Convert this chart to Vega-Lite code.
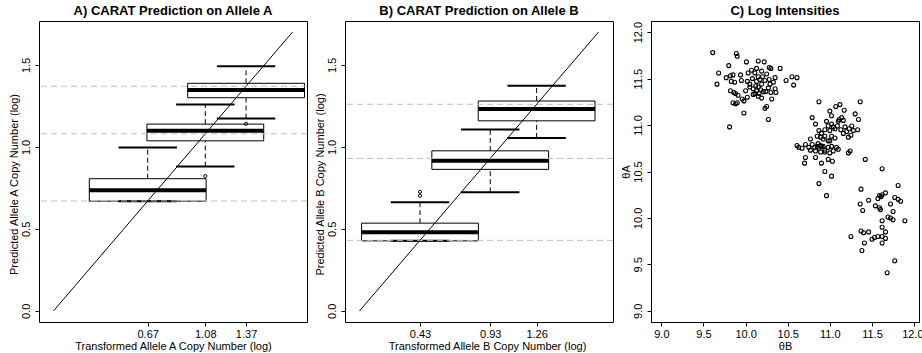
{
  "$schema": "https://vega.github.io/schema/vega-lite/v6.json",
  "padding": {"left": 7, "top": 4, "right": 0, "bottom": 0},
  "spacing": 38,
  "bounds": "flush",
  "config": {
    "font": "Liberation Sans",
    "view": {"stroke": "black", "strokeWidth": 1},
    "axis": {"domain": false, "grid": false, "ticks": true, "tickColor": "black", "tickSize": 4, "tickWidth": 1,
      "labelColor": "black", "labelFontSize": 11, "labelFont": "Liberation Sans", "titleFont": "Liberation Sans",
      "titleFontSize": 11, "titleFontWeight": "normal", "titleColor": "black", "labelPadding": 3, "titlePadding": 1,
      "labelFlush": false, "labelOverlap": false},
    "axisX": {"labelPadding": 2, "titlePadding": 1},
    "axisY": {"labelAngle": -90, "labelAlign": "center", "labelBaseline": "bottom", "labelPadding": 4},
    "title": {"font": "Liberation Sans", "fontSize": 13, "fontWeight": "bold", "color": "black", "offset": 3, "anchor": "middle"}
  },
  "datasets": {
    "boxA": [
      {"x": 0.67, "lo": 0.669, "q1": 0.669, "med": 0.735, "q3": 0.806, "hi": 0.996},
      {"x": 1.08, "lo": 0.88, "q1": 1.037, "med": 1.098, "q3": 1.139, "hi": 1.259},
      {"x": 1.37, "lo": 1.173, "q1": 1.30, "med": 1.347, "q3": 1.388, "hi": 1.492}
    ],
    "outA": [{"x": 1.08, "y": 0.822}, {"x": 1.37, "y": 1.141}],
    "refA": [{"y": 0.67}, {"y": 1.08}, {"y": 1.37}],
    "boxB": [
      {"x": 0.43, "lo": 0.427, "q1": 0.427, "med": 0.480, "q3": 0.535, "hi": 0.663},
      {"x": 0.93, "lo": 0.724, "q1": 0.863, "med": 0.916, "q3": 0.976, "hi": 1.106},
      {"x": 1.26, "lo": 1.055, "q1": 1.159, "med": 1.231, "q3": 1.280, "hi": 1.373}
    ],
    "outB": [{"x": 0.43, "y": 0.726}, {"x": 0.43, "y": 0.702}],
    "refB": [{"y": 0.43}, {"y": 0.93}, {"y": 1.26}],
    "diag": [{"x": 0, "y": 0}, {"x": 1.7, "y": 1.7}],
    "scatter": [
      {"b":9.61,"a":11.78},{"b":9.89,"a":11.77},{"b":9.90,"a":11.74},{"b":10.01,"a":11.68},{"b":10.15,"a":11.69},{"b":10.22,"a":11.68},{"b":10.28,"a":11.62},{"b":10.30,"a":11.61},{"b":10.41,"a":11.61},{"b":9.80,"a":11.64},
      {"b":9.68,"a":11.56},{"b":9.66,"a":11.44},{"b":9.77,"a":11.51},{"b":9.82,"a":11.53},{"b":9.85,"a":11.54},{"b":9.94,"a":11.54},{"b":10.07,"a":11.59},{"b":10.13,"a":11.61},{"b":10.11,"a":11.56},{"b":10.19,"a":11.58},
      {"b":10.25,"a":11.55},{"b":10.03,"a":11.56},{"b":9.83,"a":11.47},{"b":9.87,"a":11.46},{"b":9.95,"a":11.48},{"b":10.02,"a":11.47},{"b":10.08,"a":11.50},{"b":10.15,"a":11.52},{"b":10.17,"a":11.49},{"b":10.13,"a":11.47},
      {"b":10.19,"a":11.44},{"b":10.23,"a":11.48},{"b":10.28,"a":11.49},{"b":10.29,"a":11.44},{"b":10.35,"a":11.51},{"b":10.48,"a":11.48},{"b":10.55,"a":11.52},{"b":10.61,"a":11.51},{"b":10.57,"a":11.43},{"b":10.05,"a":11.41},
      {"b":10.00,"a":11.37},{"b":10.09,"a":11.39},{"b":10.15,"a":11.41},{"b":10.18,"a":11.38},{"b":10.21,"a":11.36},{"b":10.16,"a":11.34},{"b":10.13,"a":11.37},{"b":10.27,"a":11.40},{"b":10.24,"a":11.36},{"b":10.30,"a":11.35},
      {"b":10.35,"a":11.39},{"b":10.36,"a":11.35},{"b":9.82,"a":11.37},{"b":9.86,"a":11.35},{"b":9.88,"a":11.34},{"b":9.91,"a":11.32},{"b":9.96,"a":11.28},{"b":9.98,"a":11.26},{"b":10.02,"a":11.30},{"b":10.09,"a":11.33},
      {"b":10.11,"a":11.34},{"b":10.15,"a":11.31},{"b":10.19,"a":11.29},{"b":9.85,"a":11.24},{"b":9.88,"a":11.23},{"b":9.90,"a":11.24},{"b":10.25,"a":11.20},{"b":10.23,"a":11.18},{"b":10.31,"a":11.28},{"b":9.98,"a":11.13},
      {"b":10.27,"a":11.06},{"b":9.81,"a":10.98},{"b":10.05,"a":11.44},{"b":10.12,"a":11.42},{"b":10.20,"a":11.52},{"b":10.33,"a":11.46},
      {"b":10.87,"a":11.25},{"b":11.36,"a":11.25},{"b":11.12,"a":11.22},{"b":11.07,"a":11.20},{"b":11.17,"a":11.16},{"b":11.00,"a":11.15},{"b":10.79,"a":11.08},{"b":11.02,"a":11.10},{"b":11.30,"a":11.12},{"b":11.34,"a":11.06},
      {"b":11.10,"a":11.04},{"b":11.16,"a":11.05},{"b":10.83,"a":11.01},{"b":10.96,"a":11.04},{"b":10.98,"a":10.99},{"b":10.94,"a":10.95},{"b":11.00,"a":10.94},{"b":11.04,"a":10.98},{"b":11.02,"a":11.01},{"b":11.09,"a":10.99},
      {"b":11.13,"a":10.95},{"b":11.18,"a":10.98},{"b":11.23,"a":10.96},{"b":11.26,"a":10.99},{"b":11.28,"a":10.94},{"b":11.20,"a":10.93},{"b":11.16,"a":10.91},{"b":11.33,"a":10.95},{"b":11.22,"a":10.87},{"b":11.25,"a":10.89},
      {"b":10.87,"a":10.94},{"b":10.90,"a":10.91},{"b":10.89,"a":10.87},{"b":10.94,"a":10.88},{"b":10.92,"a":10.85},{"b":10.98,"a":10.83},{"b":10.85,"a":10.88},{"b":11.02,"a":10.88},{"b":11.06,"a":10.86},{"b":11.00,"a":10.83},
      {"b":10.77,"a":10.85},{"b":10.71,"a":10.79},{"b":10.67,"a":10.75},{"b":10.63,"a":10.76},{"b":10.75,"a":10.76},{"b":10.79,"a":10.79},{"b":10.82,"a":10.76},{"b":10.85,"a":10.77},{"b":10.87,"a":10.75},{"b":10.90,"a":10.77},
      {"b":10.77,"a":10.73},{"b":10.83,"a":10.72},{"b":10.89,"a":10.71},{"b":10.94,"a":10.73},{"b":10.98,"a":10.76},{"b":11.02,"a":10.77},{"b":11.08,"a":10.76},{"b":11.10,"a":10.74},{"b":11.04,"a":10.72},{"b":10.71,"a":10.65},
      {"b":10.70,"a":10.59},{"b":10.83,"a":10.65},{"b":10.90,"a":10.59},{"b":10.98,"a":10.63},{"b":11.03,"a":10.61},{"b":11.24,"a":10.72},{"b":11.22,"a":10.70},{"b":11.42,"a":10.63},{"b":10.94,"a":10.50},{"b":11.02,"a":10.45},
      {"b":10.87,"a":10.37},{"b":11.62,"a":10.53},{"b":10.61,"a":10.78},{"b":10.96,"a":10.24},{"b":11.14,"a":11.08},{"b":11.11,"a":11.06},{"b":11.06,"a":10.96},{"b":11.00,"a":10.70},{"b":10.94,"a":10.71},{"b":10.86,"a":10.80},
      {"b":10.89,"a":10.78},{"b":10.92,"a":10.77},
      {"b":11.81,"a":10.35},{"b":11.37,"a":10.31},{"b":11.66,"a":10.27},{"b":11.62,"a":10.25},{"b":11.59,"a":10.24},{"b":11.57,"a":10.21},{"b":11.61,"a":10.23},{"b":11.77,"a":10.22},{"b":11.81,"a":10.20},{"b":11.84,"a":10.18},
      {"b":11.46,"a":10.19},{"b":11.36,"a":10.15},{"b":11.39,"a":10.08},{"b":11.54,"a":10.13},{"b":11.59,"a":10.11},{"b":11.60,"a":10.09},{"b":11.72,"a":10.15},{"b":11.75,"a":10.07},{"b":11.69,"a":10.01},{"b":11.72,"a":10.00},
      {"b":11.75,"a":9.98},{"b":11.62,"a":9.97},{"b":11.89,"a":9.97},{"b":11.62,"a":9.90},{"b":11.66,"a":9.85},{"b":11.66,"a":9.78},{"b":11.62,"a":9.80},{"b":11.37,"a":9.86},{"b":11.40,"a":9.84},{"b":11.46,"a":9.85},
      {"b":11.25,"a":9.80},{"b":11.50,"a":9.77},{"b":11.53,"a":9.79},{"b":11.57,"a":9.80},{"b":11.41,"a":9.73},{"b":11.62,"a":9.73},{"b":11.38,"a":9.65},{"b":11.77,"a":9.54},{"b":11.68,"a":9.41}
    ]
  },
  "hconcat": [
    {
      "width": 268, "height": 301,
      "title": "A) CARAT Prediction on Allele A",
      "layer": [
        {"data": {"name": "boxA"}, "mark": {"type": "rule", "color": "black", "strokeDash": [5, 3], "strokeWidth": 1},
          "encoding": {
            "x": {"field": "x", "type": "quantitative", "scale": {"domain": [-0.068, 1.768], "nice": false, "zero": false},
              "axis": {"title": "Transformed Allele A Copy Number (log)", "values": [0.67, 1.08, 1.37], "format": ".2f"}},
            "y": {"field": "q3", "type": "quantitative", "scale": {"domain": [-0.068, 1.768], "nice": false, "zero": false},
              "axis": {"title": "Predicted Allele A Copy Number (log)", "values": [0, 0.5, 1, 1.5], "format": ".1f", "titleY": 163}},
            "y2": {"field": "hi"}}},
        {"data": {"name": "boxA"}, "mark": {"type": "rule", "color": "black", "strokeDash": [5, 3], "strokeWidth": 1},
          "encoding": {"x": {"field": "x", "type": "quantitative"}, "y": {"field": "lo", "type": "quantitative"}, "y2": {"field": "q1"}}},
        {"data": {"name": "boxA"}, "mark": {"type": "tick", "orient": "horizontal", "color": "black", "size": 58.4, "thickness": 2, "opacity": 1},
          "encoding": {"x": {"field": "x", "type": "quantitative"}, "y": {"field": "hi", "type": "quantitative"}}},
        {"data": {"name": "boxA"}, "mark": {"type": "tick", "orient": "horizontal", "color": "black", "size": 58.4, "thickness": 2, "opacity": 1},
          "encoding": {"x": {"field": "x", "type": "quantitative"}, "y": {"field": "lo", "type": "quantitative"}}},
        {"data": {"name": "boxA"}, "mark": {"type": "bar", "orient": "vertical", "size": 116.8, "fillOpacity": 0, "stroke": "black", "strokeWidth": 1, "clip": true},
          "encoding": {"x": {"field": "x", "type": "quantitative"}, "y": {"field": "q1", "type": "quantitative"}, "y2": {"field": "q3"}}},
        {"data": {"name": "boxA"}, "mark": {"type": "tick", "orient": "horizontal", "color": "black", "size": 116.8, "thickness": 4, "opacity": 1, "clip": true},
          "encoding": {"x": {"field": "x", "type": "quantitative"}, "y": {"field": "med", "type": "quantitative"}}},
        {"data": {"name": "outA"}, "mark": {"type": "point", "shape": "circle", "filled": false, "color": "black", "size": 10, "strokeWidth": 1, "opacity": 1},
          "encoding": {"x": {"field": "x", "type": "quantitative"}, "y": {"field": "y", "type": "quantitative"}}},
        {"data": {"name": "diag"}, "mark": {"type": "line", "color": "black", "strokeWidth": 1},
          "encoding": {"x": {"field": "x", "type": "quantitative"}, "y": {"field": "y", "type": "quantitative"}}},
        {"data": {"name": "refA"}, "mark": {"type": "rule", "color": "#BEBEBE", "strokeDash": [6, 4], "strokeWidth": 1},
          "encoding": {"y": {"field": "y", "type": "quantitative"}}}
      ]
    },
    {
      "width": 268, "height": 301,
      "title": "B) CARAT Prediction on Allele B",
      "layer": [
        {"data": {"name": "boxB"}, "mark": {"type": "rule", "color": "black", "strokeDash": [5, 3], "strokeWidth": 1},
          "encoding": {
            "x": {"field": "x", "type": "quantitative", "scale": {"domain": [-0.068, 1.768], "nice": false, "zero": false},
              "axis": {"title": "Transformed Allele B  Copy Number (log)", "values": [0.43, 0.93, 1.26], "format": ".2f", "titleX": 142}},
            "y": {"field": "q3", "type": "quantitative", "scale": {"domain": [-0.068, 1.768], "nice": false, "zero": false},
              "axis": {"title": "Predicted Allele B Copy Number (log)", "values": [0, 0.5, 1, 1.5], "format": ".1f", "titleY": 163}},
            "y2": {"field": "hi"}}},
        {"data": {"name": "boxB"}, "mark": {"type": "rule", "color": "black", "strokeDash": [5, 3], "strokeWidth": 1},
          "encoding": {"x": {"field": "x", "type": "quantitative"}, "y": {"field": "lo", "type": "quantitative"}, "y2": {"field": "q1"}}},
        {"data": {"name": "boxB"}, "mark": {"type": "tick", "orient": "horizontal", "color": "black", "size": 58.4, "thickness": 2, "opacity": 1},
          "encoding": {"x": {"field": "x", "type": "quantitative"}, "y": {"field": "hi", "type": "quantitative"}}},
        {"data": {"name": "boxB"}, "mark": {"type": "tick", "orient": "horizontal", "color": "black", "size": 58.4, "thickness": 2, "opacity": 1},
          "encoding": {"x": {"field": "x", "type": "quantitative"}, "y": {"field": "lo", "type": "quantitative"}}},
        {"data": {"name": "boxB"}, "mark": {"type": "bar", "orient": "vertical", "size": 116.8, "fillOpacity": 0, "stroke": "black", "strokeWidth": 1, "clip": true},
          "encoding": {"x": {"field": "x", "type": "quantitative"}, "y": {"field": "q1", "type": "quantitative"}, "y2": {"field": "q3"}}},
        {"data": {"name": "boxB"}, "mark": {"type": "tick", "orient": "horizontal", "color": "black", "size": 116.8, "thickness": 4, "opacity": 1, "clip": true},
          "encoding": {"x": {"field": "x", "type": "quantitative"}, "y": {"field": "med", "type": "quantitative"}}},
        {"data": {"name": "outB"}, "mark": {"type": "point", "shape": "circle", "filled": false, "color": "black", "size": 10, "strokeWidth": 1, "opacity": 1},
          "encoding": {"x": {"field": "x", "type": "quantitative"}, "y": {"field": "y", "type": "quantitative"}}},
        {"data": {"name": "diag"}, "mark": {"type": "line", "color": "black", "strokeWidth": 1},
          "encoding": {"x": {"field": "x", "type": "quantitative"}, "y": {"field": "y", "type": "quantitative"}}},
        {"data": {"name": "refB"}, "mark": {"type": "rule", "color": "#BEBEBE", "strokeDash": [6, 4], "strokeWidth": 1},
          "encoding": {"y": {"field": "y", "type": "quantitative"}}}
      ]
    },
    {
      "width": 268, "height": 301,
      "title": "C) Log Intensities",
      "data": {"name": "scatter"},
      "mark": {"type": "point", "shape": "circle", "filled": false, "color": "black", "size": 16, "strokeWidth": 1.1, "opacity": 1},
      "encoding": {
        "x": {"field": "b", "type": "quantitative", "scale": {"domain": [8.877, 12.058], "nice": false, "zero": false},
          "axis": {"title": "θB", "values": [9, 9.5, 10, 10.5, 11, 11.5, 12], "format": ".1f", "labelFlush": 8, "labelFlushOffset": 9}},
        "y": {"field": "a", "type": "quantitative", "scale": {"domain": [8.88, 12.12], "nice": false, "zero": false},
          "axis": {"title": "θA", "values": [9, 9.5, 10, 10.5, 11, 11.5, 12], "format": ".1f"}}
      }
    }
  ]
}
